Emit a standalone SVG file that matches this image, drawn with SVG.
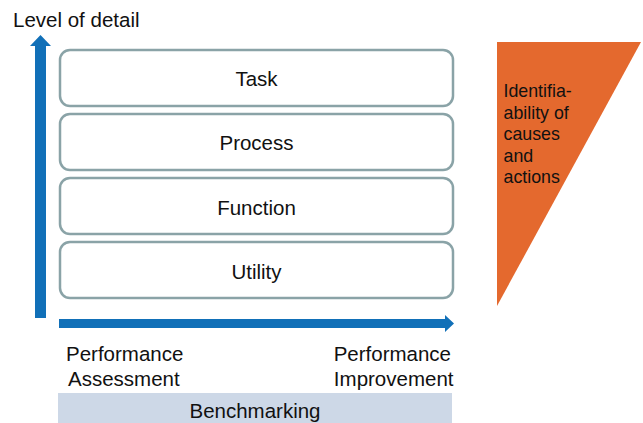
<svg xmlns="http://www.w3.org/2000/svg" width="643" height="423" viewBox="0 0 643 423">
<style>
text{font-family:"Liberation Sans",Arial,sans-serif;fill:#111;font-size:20.5px}
.box{fill:#fff;stroke:#8aa3a7;stroke-width:2.5}
.lbl{text-anchor:middle}
.ax{fill:#1170b8}
</style>
<rect width="643" height="423" fill="#fff"/>
<text x="13" y="27">Level of detail</text>
<g id="connectors">
<path class="ax" d="M35,318 L35,46 L30,46 L40.5,35 L51,46 L46,46 L46,318 Z"/>
<path class="ax" d="M59,319 L445,319 L445,315 L454,323.5 L445,332 L445,328 L59,328 Z"/>
</g>
<g id="task"><rect class="box" x="60" y="50" width="393" height="56" rx="10"/><text class="lbl" x="256.5" y="86">Task</text></g>
<g id="process"><rect class="box" x="60" y="114" width="393" height="56" rx="10"/><text class="lbl" x="256.5" y="150">Process</text></g>
<g id="function"><rect class="box" x="60" y="178" width="393" height="56" rx="10"/><text class="lbl" x="256.5" y="214.5">Function</text></g>
<g id="utility"><rect class="box" x="60" y="242" width="393" height="56" rx="10"/><text class="lbl" x="256.5" y="279">Utility</text></g>
<g id="identifiability">
<polygon points="497,42 641,42 497,306" fill="#e4692e"/>
<text style="font-size:17.8px"><tspan x="503.5" y="97">Identifia-</tspan><tspan x="503.5" y="118.5">ability of</tspan><tspan x="503.5" y="140">causes</tspan><tspan x="503.5" y="161.5">and</tspan><tspan x="503.5" y="183">actions</tspan></text>
</g>
<g id="assessment"><text><tspan x="66" y="361">Performance</tspan><tspan x="68" y="385.5">Assessment</tspan></text></g>
<g id="improvement"><text text-anchor="end"><tspan x="451" y="361">Performance</tspan><tspan x="453.5" y="385.5">Improvement</tspan></text></g>
<g id="benchmarking"><rect x="58" y="393" width="394" height="30" fill="#cdd8e7"/><text class="lbl" x="255" y="418">Benchmarking</text></g>
</svg>
